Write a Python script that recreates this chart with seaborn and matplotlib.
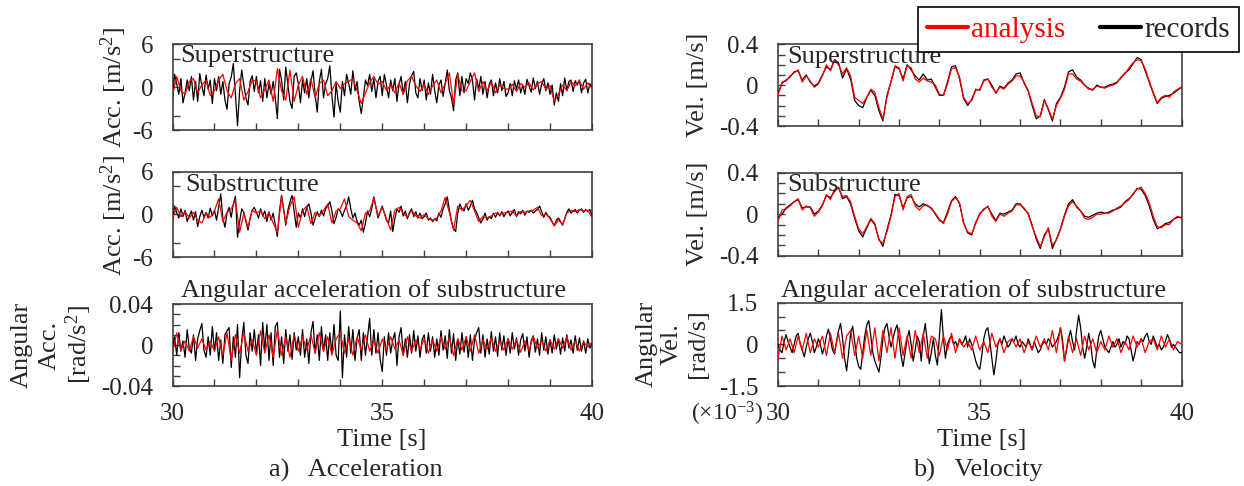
import numpy as np
import pandas as pd
import matplotlib
matplotlib.use("Agg")
import matplotlib.pyplot as plt
from matplotlib.lines import Line2D
import seaborn as sns

# ---------------- DATA ----------------
T_START, T_END = 30.0, 40.0

# Superstructure acceleration [m/s2]; records sampled every 0.05 s, analysis every 0.1 s
acc_sup_rec = [
    -1.5, 1.8, 0.5, -1.0, 1.2, -2.2, -0.8, 1.0, -0.5, 1.5, -1.8, 0.8, -2.0, 1.9, 0.2, -1.2, 1.7, -0.3, 1.0, -2.3,
    1.2, -0.5, 1.5, -1.0, 0.8, -1.8, -3.1, 0.5, 1.4, 3.3, -1.0, -5.4, -0.5, 2.4, 0.3, -1.5, -2.5, 0.8, 1.6, -0.6,
    1.5, -0.8, 0.9, -2.0, 1.2, -1.5, 0.5, -1.0, 0.8, -1.5, -4.4, 2.5, 1.0, -1.8, 2.8, 0.4, -2.0, -3.0, 1.5, 2.0,
    0.5, -2.2, 1.0, -0.8, 1.2, -1.5, 0.8, 2.3, -1.0, -3.5, 0.8, 2.5, -1.5, 0.5, 1.2, 3.0, -1.2, -4.2, 0.5, -2.0,
    -3.5, 0.8, -1.2, 1.8, 0.5, -1.0, 2.3, -0.5, 0.8, -2.0, -3.7, -1.5, 1.0, 0.2, 1.8, -0.6, 1.2, -1.5, 0.8, 1.5,
    -1.2, 1.8, 0.3, -1.5, 1.0, -0.5, 1.2, -2.0, 0.4, 1.5, -1.0, 0.8, -2.2, 0.5, 1.6, 2.2, -0.8, -1.5, 1.2, -0.5,
    1.0, -1.8, 0.6, -1.0, 1.8, -0.5, -2.2, 0.3, 1.0, -1.3, 0.5, 2.4, -0.5, -1.5, -3.3, 1.0, 2.0, -1.2, 1.5, -0.8,
    1.2, 0.5, 2.0, 1.0, -1.8, 1.2, -0.3, 1.5, -1.0, 0.8, -1.5, 0.4, 1.0, -1.2, 0.6, -0.8, 1.2, -0.5, 0.8, -1.3,
    -0.8, 0.5, -1.2, 0.9, -0.3, 1.0, -0.8, 0.3, -1.0, 1.1, 0.2, -0.7, 1.3, -0.2, 0.8, -1.0, 0.4, 1.2, -0.5, 0.6,
    -1.0, 0.3, -2.5, -0.8, -2.0, 0.5, -1.2, 1.3, -0.5, 0.8, 1.0, -0.6, 0.9, 0.3, 1.0, -0.8, 0.6, 1.1, -0.8, 0.5, 0.0,
]
acc_sup_ana = [
    -1.2, 1.5, -0.5, -1.0, 0.8, 1.2, -0.8, 0.3, 1.0, -1.2,
    -0.5, 1.0, 1.8, -0.5, -1.5, 0.5, 1.2, -1.8, -0.6, 1.0,
    0.8, -1.5, -0.3, 1.0, -2.0, 2.6, -0.5, -1.8, 2.4, -2.0,
    0.3, 1.5, -1.0, 1.2, -1.5, 0.5, 1.0, -1.2, -0.5, 0.8,
    -0.2, 0.5, 0.8, 1.2, -0.5, -2.3, -0.8, 0.6, 1.5, 0.4,
    0.8, -0.5, 0.3, -0.8, 0.6, -1.0, 0.9, 1.5, 0.2, -0.6,
    0.4, -1.0, 0.2, 1.0, -0.8, 0.5, 2.0, -2.4, 1.8, -0.5,
    -0.5, 0.8, 2.0, -0.6, 0.8, -0.5, 0.7, -0.8, 0.3, -0.2,
    -0.3, 0.4, -0.6, 0.5, 0.0, 0.6, -0.4, 0.5, 0.8, -0.3,
    0.2, -2.0, -1.0, 0.3, -0.5, 0.8, 0.2, 0.9, -0.3, 0.6, -0.2,
]

# Substructure acceleration [m/s2]
acc_sub_rec = [
    -0.8, 1.2, 0.3, -0.5, 0.8, -0.3, 0.6, -1.0, -0.2, 0.5, -0.8, 0.4, -1.7, -0.3, 0.6, -0.4, 0.3, -0.5, 0.9, -0.2,
    0.6, -0.8, 1.0, 2.9, -0.5, -1.8, 0.2, 1.0, -0.4, 1.5, 2.6, -3.2, -1.0, 0.8, 0.3, -1.0, -2.2, -0.5, 0.6, 1.0,
    0.3, -0.5, 0.8, -0.2, 0.5, -1.0, 0.4, -0.8, 0.2, -1.5, -3.1, 0.5, 2.7, 0.8, -1.5, 0.6, 1.8, 2.7, 0.5, -1.8,
    0.2, -0.5, 0.8, -0.3, 1.0, 1.5, 0.2, -1.5, -0.5, 0.4, -0.3, 0.6, -0.2, 0.8, 1.2, 1.8, 0.5, -1.3, -0.4, 0.8,
    0.5, -0.3, 0.6, 1.2, 2.5, 0.8, -0.5, 0.2, -1.0, -1.5, -0.8, -2.5, -1.2, 0.5, -0.3, 0.8, 2.5, 1.0, -0.5, 0.4,
    1.2, 0.2, -0.8, -1.2, 0.5, -2.4, -0.6, 0.8, 0.3, 1.2, -0.2, 0.5, -0.6, 0.3, 0.8, -0.3, 0.4, -0.5, 0.2, -0.6,
    -0.3, 0.2, -0.8, -0.5, -1.0, -0.6, -0.9, 0.2, -0.4, 0.8, 1.5, 2.5, 0.6, -1.0, -2.0, -2.4, 0.2, 1.5, 0.8, 0.5,
    1.5, 0.6, 1.2, 2.0, 0.8, 0.3, -0.5, -1.2, -0.6, 0.2, -0.8, -0.3, -0.6, 0.2, -0.4, 0.3, -0.2, 0.4, -0.3, 0.2,
    0.5, -0.2, 0.3, 0.7, -0.3, 0.4, 0.1, 0.6, -0.1, 0.5, 0.3, 0.6, 0.2, 0.5, 0.7, 1.2, 0.4, -0.4, 0.3, -0.2,
    -0.4, -1.0, -1.6, -0.8, -0.5, -1.0, -1.5, -0.6, 0.3, 0.8, 0.2, 0.5, 0.7, 0.2, 0.6, 0.8, 0.3, 0.7, 0.4, 0.7, -0.3,
]
acc_sub_ana = [
    -0.6, 1.0, -0.3, 0.4, -0.5, 0.3, -0.8, -1.2, 0.2, -0.4,
    0.5, 2.2, -1.0, 0.3, 0.8, 2.0, -2.5, 0.2, -1.8, 0.6,
    0.2, 0.5, -0.6, 0.3, -1.2, -2.5, 2.5, -1.2, 1.2, 2.5,
    -1.8, 0.5, 1.2, -1.3, 0.3, -0.2, 0.6, 1.5, -1.2, 0.5,
    0.8, 2.2, -0.3, -0.8, -1.2, -2.3, 0.2, 0.5, 2.3, -0.2,
    1.0, -0.6, -2.2, 0.6, 1.0, 0.2, -0.4, 0.6, -0.2, -0.5,
    0.0, -0.6, -0.8, -0.5, 0.5, 2.4, 0.3, -2.2, 1.2, 0.6,
    1.3, 2.0, 0.5, -1.0, -0.3, -0.5, -0.2, 0.2, 0.0, 0.2,
    0.3, 0.5, -0.2, 0.4, 0.3, 0.5, 0.6, 1.0, -0.2, 0.1,
    -0.6, -1.6, -0.8, -1.4, 0.2, 0.6, 0.4, 0.7, 0.5, 0.6, -0.4,
]

# Angular acceleration of substructure [x0.001 rad/s2]
angacc_rec = [
    -5, 8, -10, 12, -6, 4, -12, 15, -3, -8, 10, -15, 6, 14, 21, -5, -12, 8, -10, 18,
    -6, 12, -15, 5, -18, 10, 14, 17, -22, 8, -12, 20, -32, 4, 22, -10, -18, 12, -6, 15,
    -8, 10, -20, 22, -5, 20, -15, 12, -20, 18, 22, -12, 8, -18, 15, -6, 10, -14, 12, -5,
    8, -10, 15, -12, 6, -18, 12, 23, -8, 10, -15, 18, -6, 10, -15, 12, -8, 20, -10, -15,
    33, -32, 10, -12, 18, -8, 15, -15, 6, 15, -15, 12, -10, 8, 26, -10, 15, -8, 12, -14,
    -26, 8, -10, 12, -8, 5, 12, -20, 8, 17, -10, 6, -12, 10, -8, 14, -6, 9, -12, 5,
    10, -8, 12, -6, 8, -12, 6, -10, 14, -5, 9, -13, 15, -8, 11, -15, 6, -9, 12, -7,
    8, -12, 10, -15, 5, 12, 17, -8, 10, -12, 6, -9, 13, -6, 8, -11, 12, -5, 9, -10,
    6, -8, 12, -4, 7, -10, 5, 11, -6, 8, -12, 4, 9, -7, 6, -10, 12, -5, 8, -9,
    5, -8, 10, -4, 6, -9, 7, -6, 10, -3, 5, -8, 9, -5, 7, -6, 4, -8, 6, -3, 2,
]
angacc_ana = [
    -8, 12, -5, 4, -6, 8, -3, 6, -5, 4,
    -6, 8, -10, 12, -15, 10, -8, 12, -6, 5,
    -10, 14, -8, 10, -12, 15, -10, 8, -12, 10,
    -6, 8, -5, 10, -8, 12, -6, 8, -10, 6,
    12, -8, 6, -10, 8, -5, 10, -6, 4, -8,
    6, -5, 8, -4, 5, -10, 8, -6, 5, -4,
    6, -8, 5, -6, 8, -4, 7, -10, 6, -5,
    8, -6, 10, -8, 5, -4, 7, -6, 4, -5,
    6, -4, 5, -7, 4, -5, 8, -3, 4, -6,
    5, -4, 6, -3, 8, -5, 4, -6, 3, -2, 3,
]

# Superstructure velocity [m/s], every 0.1 s
vel_sup_rec = [
    -0.08, 0.02, 0.05, 0.08, 0.13, 0.14, 0.05, 0.10, 0.03, -0.01,
    0.02, 0.10, 0.18, 0.15, 0.25, 0.22, 0.07, 0.16, 0.06, -0.15,
    -0.20, -0.22, -0.12, -0.05, -0.10, -0.25, -0.35, -0.10, 0.03, 0.18,
    0.16, 0.06, 0.20, 0.15, 0.09, 0.05, 0.11, 0.05, 0.06, -0.02,
    -0.10, -0.10, 0.03, 0.18, 0.19, 0.06, -0.13, -0.20, -0.14, -0.04,
    -0.05, 0.05, 0.06, 0.00, -0.08, -0.01, -0.03, 0.02, 0.05, 0.11,
    0.12, 0.02, -0.06, -0.20, -0.33, -0.30, -0.14, -0.24, -0.35, -0.18,
    -0.12, -0.02, 0.13, 0.15, 0.08, 0.05, 0.00, -0.03, -0.05, 0.00,
    -0.02, -0.02, 0.00, 0.01, 0.03, 0.07, 0.12, 0.15, 0.21, 0.27,
    0.25, 0.14, 0.03, -0.08, -0.18, -0.13, -0.11, -0.10, -0.08, -0.05, -0.02,
]
vel_sup_ana = [
    -0.10, 0.03, 0.04, 0.09, 0.12, 0.15, 0.03, 0.09, 0.04, -0.02,
    0.01, 0.09, 0.20, 0.14, 0.24, 0.20, 0.11, 0.17, 0.09, -0.12,
    -0.15, -0.18, -0.12, -0.04, -0.07, -0.22, -0.33, -0.12, 0.04, 0.19,
    0.17, 0.04, 0.19, 0.17, 0.06, 0.03, 0.07, 0.04, 0.03, 0.00,
    -0.09, -0.10, 0.01, 0.16, 0.17, 0.08, -0.12, -0.18, -0.15, -0.05,
    -0.04, 0.04, 0.06, -0.02, -0.07, -0.02, -0.04, 0.01, 0.04, 0.09,
    0.09, 0.03, -0.05, -0.18, -0.30, -0.31, -0.15, -0.23, -0.33, -0.20,
    -0.13, -0.04, 0.11, 0.11, 0.06, 0.04, 0.00, -0.04, -0.04, -0.01,
    -0.02, -0.03, -0.01, 0.00, 0.02, 0.08, 0.11, 0.17, 0.22, 0.25,
    0.24, 0.16, 0.04, -0.07, -0.17, -0.12, -0.10, -0.12, -0.07, -0.04, -0.02,
]

# Substructure velocity [m/s], every 0.1 s
vel_sub_rec = [
    -0.03, 0.00, 0.06, 0.09, 0.12, 0.14, 0.06, 0.07, 0.07, 0.00,
    0.03, 0.09, 0.18, 0.16, 0.22, 0.26, 0.15, 0.17, 0.10, -0.04,
    -0.16, -0.22, -0.13, -0.05, -0.10, -0.24, -0.31, -0.15, -0.01, 0.19,
    0.18, 0.06, 0.16, 0.17, 0.10, 0.07, 0.10, 0.08, 0.06, 0.00,
    -0.06, -0.08, 0.02, 0.13, 0.17, 0.10, -0.08, -0.18, -0.20, -0.08,
    0.00, 0.05, 0.07, 0.00, -0.06, 0.01, 0.00, 0.02, 0.04, 0.10,
    0.10, 0.05, 0.01, -0.11, -0.24, -0.33, -0.20, -0.14, -0.33, -0.24,
    -0.14, -0.01, 0.10, 0.14, 0.07, 0.03, -0.02, -0.03, -0.01, 0.01,
    0.02, 0.01, 0.02, 0.04, 0.05, 0.07, 0.12, 0.15, 0.19, 0.25,
    0.24, 0.18, 0.08, -0.05, -0.14, -0.12, -0.09, -0.08, -0.05, -0.03, -0.03,
]
vel_sub_ana = [
    -0.07, 0.04, 0.05, 0.08, 0.12, 0.15, 0.04, 0.08, 0.06, -0.02,
    0.02, 0.08, 0.19, 0.14, 0.24, 0.25, 0.17, 0.18, 0.12, -0.02,
    -0.14, -0.19, -0.12, -0.04, -0.09, -0.25, -0.28, -0.17, -0.02, 0.17,
    0.20, 0.04, 0.17, 0.19, 0.08, 0.04, 0.08, 0.09, 0.05, 0.01,
    -0.05, -0.09, 0.00, 0.12, 0.16, 0.11, -0.09, -0.17, -0.19, -0.09,
    0.01, 0.04, 0.08, -0.02, -0.07, 0.00, -0.02, 0.01, 0.03, 0.09,
    0.09, 0.06, 0.00, -0.12, -0.22, -0.31, -0.22, -0.13, -0.30, -0.25,
    -0.15, -0.02, 0.08, 0.12, 0.08, 0.03, -0.04, -0.05, -0.03, 0.00,
    0.00, 0.01, 0.01, 0.03, 0.06, 0.08, 0.11, 0.14, 0.20, 0.24,
    0.26, 0.20, 0.11, -0.02, -0.12, -0.13, -0.10, -0.10, -0.05, -0.02, -0.04,
]

# Angular velocity of substructure [x10^-3 rad/s]
angvel_rec = [
    0.0, -0.2, -0.3, 0.1, 0.35, 0.1, -0.1, -0.3, 0.0, 0.3, 0.4, 0.0, -0.2, -0.45, -0.1, 0.2, 0.4, 0.1, -0.3, -0.1,
    0.2, 0.0, -0.35, -0.1, 0.3, 0.55, 0.2, -0.2, -0.35, 0.1, 0.5, 0.75, 0.2, -0.5, -0.95, -0.3, 0.4, 0.65, 0.1, -0.5,
    -0.8, -0.9, -0.3, 0.3, 0.7, 0.85, 0.3, -0.3, -0.6, -0.8, -1.0, -0.5, 0.2, 0.6, 0.75, 0.3, -0.1, 0.2, 0.5, 0.7,
    0.2, -0.4, -0.8, -0.3, 0.2, 0.5, 0.0, -0.6, -0.2, 0.3, 0.1, -0.6, 0.3, 0.75, 0.1, -0.7, -0.3, 0.2, -0.4, -0.75,
    0.3, 1.25, 0.2, -0.5, 0.0, 0.2, 0.3, 0.0, 0.1, -0.1, 0.2, 0.0, 0.1, 0.3, -0.1, 0.2, 0.0, -0.3, -0.6, -0.8,
    -0.9, -0.4, 0.2, 0.5, 0.6, 0.1, -0.5, -1.1, -0.6, 0.0, 0.2, 0.0, 0.3, 0.1, -0.1, 0.0, 0.2, 0.1, 0.3, 0.0,
    -0.1, 0.1, 0.0, -0.1, 0.2, 0.0, -0.2, 0.1, -0.1, -0.3, -0.2, 0.0, 0.1, 0.0, 0.2, 0.1, -0.1, 0.0, 0.1, 0.3,
    0.6, 0.2, -0.6, -0.2, 0.2, 0.5, 0.1, -0.2, 0.5, 1.05, 0.6, -0.1, -0.5, -0.1, 0.4, 0.0, -0.6, -0.85, -0.2, 0.3,
    0.5, 0.2, -0.1, -0.2, -0.3, -0.1, 0.1, -0.1, 0.0, 0.2, -0.1, 0.1, 0.0, 0.3, 0.2, -0.2, -0.6, -0.3, 0.1, 0.0,
    0.2, 0.1, 0.3, 0.4, 0.1, 0.0, 0.3, 0.1, -0.1, 0.0, -0.2, -0.1, 0.1, 0.35, 0.2, -0.1, 0.0, -0.1, -0.2, -0.3, -0.3,
]
angvel_ana = [
    -0.5, 0.3, -0.2, 0.2, -0.3, 0.3, -0.2, 0.4, -0.3, 0.2,
    -0.1, 0.3, -0.4, 0.4, -0.3, 0.4, -0.5, 0.3, 0.5, -0.4,
    0.3, -0.5, 0.5, -0.4, 0.6, -0.6, 0.5, -0.3, 0.6, -0.5,
    0.6, -0.4, 0.3, -0.5, 0.5, -0.3, 0.4, -0.5, 0.3, 0.2,
    -0.4, 0.3, -0.2, 0.4, -0.3, 0.2, -0.1, 0.1, -0.2, 0.3,
    -0.2, 0.1, -0.3, 0.4, -0.1, 0.2, -0.3, 0.1, 0.2, -0.1,
    0.2, -0.3, 0.1, -0.2, 0.3, -0.1, 0.2, -0.2, 0.5, -0.3,
    0.6, -0.6, 0.3, -0.3, 0.2, -0.4, 0.3, -0.2, 0.2, -0.3,
    0.1, -0.2, 0.3, -0.1, 0.2, -0.3, 0.1, -0.2, 0.3, -0.1,
    0.2, -0.3, 0.1, 0.2, -0.2, 0.3, -0.1, 0.2, -0.2, 0.1, 0.0,
]

SERIES_LABELS = ["analysis", "records"]

# ---------------- STYLE ----------------
sns.set_style("white")
plt.rcParams["font.family"] = ["Liberation Serif", "DejaVu Serif"]
plt.rcParams["mathtext.fontset"] = "custom"
plt.rcParams["mathtext.rm"] = "Liberation Serif"
plt.rcParams["mathtext.default"] = "regular"

W, H = 1244, 486
fig = plt.figure(figsize=(W / 100, H / 100), dpi=100)
fig.patch.set_facecolor("white")

RED = "#ff0000"
BLACK = "#000000"
SPINE = "#404040"
FS = 19


def rect(l, t, r, b):
    return [l / W, 1 - b / H, (r - l) / W, (b - t) / H]


def series_df(vals):
    t = np.linspace(T_START, T_END, len(vals))
    return pd.DataFrame({"t": t, "v": vals})


def draw(ax, rec, ana, ylim, yticks, ylabels, bottom):
    sns.lineplot(data=series_df(rec), x="t", y="v", ax=ax, color=BLACK, lw=0.9, zorder=3)
    sns.lineplot(data=series_df(ana), x="t", y="v", ax=ax, color=RED, lw=0.9, zorder=4)
    ax.set_xlim(T_START, T_END)
    ax.set_ylim(*ylim)
    ax.set_yticks(yticks)
    ax.set_yticklabels(ylabels)
    xt = list(range(30, 41))
    ax.set_xticks(xt)
    if bottom:
        ax.set_xticklabels([str(v) if v in (30, 35, 40) else "" for v in xt])
    else:
        ax.set_xticklabels([""] * len(xt))
    ax.set_xlabel("")
    ax.set_ylabel("")
    for s in ax.spines.values():
        s.set_visible(True)
        s.set_color(SPINE)
        s.set_linewidth(1.2)
    ax.tick_params(axis="both", direction="in", length=5, width=1.0, color=SPINE,
                   labelsize=18, left=True, bottom=True, top=False, right=False)
    ax.tick_params(axis="y", pad=14)
    ax.tick_params(axis="x", pad=12)


LX = (172.5, 592)
RX = (778, 1181.5)
LROWS = [(44.3, 130), (172, 257), (304, 386)]
RROWS = [(44.3, 126), (172.7, 255.7), (302.7, 386)]

acc_ticks = [-6, -4, 0, 4, 6]
acc_labels = ["-6", "", "0", "", "6"]
vel_ticks = [-0.4, -0.3, -0.2, -0.1, 0, 0.1, 0.2, 0.3, 0.4]
vel_labels = ["-0.4", "", "", "", "0", "", "", "", "0.4"]
aacc_ticks = [-40, -30, -20, -10, 0, 10, 20, 30, 40]
aacc_labels = ["-0.04", "", "", "", "0", "", "", "", "0.04"]
avel_ticks = [-1.5, -1.0, -0.5, 0, 0.5, 1.0, 1.5]
avel_labels = ["-1.5", "", "", "0", "", "", "1.5"]

ax = fig.add_axes(rect(LX[0], LROWS[0][0], LX[1], LROWS[0][1]))
draw(ax, acc_sup_rec, acc_sup_ana, (-6, 6), acc_ticks, acc_labels, False)
ax = fig.add_axes(rect(LX[0], LROWS[1][0], LX[1], LROWS[1][1]))
draw(ax, acc_sub_rec, acc_sub_ana, (-6, 6), acc_ticks, acc_labels, False)
ax = fig.add_axes(rect(LX[0], LROWS[2][0], LX[1], LROWS[2][1]))
draw(ax, angacc_rec, angacc_ana, (-40, 40), aacc_ticks, aacc_labels, True)
ax = fig.add_axes(rect(RX[0], RROWS[0][0], RX[1], RROWS[0][1]))
draw(ax, vel_sup_rec, vel_sup_ana, (-0.4, 0.4), vel_ticks, vel_labels, False)
ax = fig.add_axes(rect(RX[0], RROWS[1][0], RX[1], RROWS[1][1]))
draw(ax, vel_sub_rec, vel_sub_ana, (-0.4, 0.4), vel_ticks, vel_labels, False)
ax = fig.add_axes(rect(RX[0], RROWS[2][0], RX[1], RROWS[2][1]))
draw(ax, angvel_rec, angvel_ana, (-1.5, 1.5), avel_ticks, avel_labels, True)


def ftext(x, y, s, **kw):
    fig.text(x / W, 1 - y / H, s, **kw)


# panel titles
ftext(180, 56, "Superstructure", fontsize=FS, va="center", ha="left")
ftext(185, 185, "Substructure", fontsize=FS, va="center", ha="left")
ftext(181, 291, "Angular acceleration of substructure", fontsize=FS, va="center", ha="left")
ftext(787, 57, "Superstructure", fontsize=FS, va="center", ha="left")
ftext(787, 185, "Substructure", fontsize=FS, va="center", ha="left")
ftext(781, 291, "Angular acceleration of substructure", fontsize=FS, va="center", ha="left")

# y labels
ftext(114, 87, "Acc. [m/s$^{2}$]", fontsize=FS, rotation=90, ha="center", va="center")
ftext(114, 215, "Acc. [m/s$^{2}$]", fontsize=FS, rotation=90, ha="center", va="center")
ftext(22, 345, "Angular", fontsize=FS, rotation=90, ha="center", va="center")
ftext(50, 345, "Acc.", fontsize=FS, rotation=90, ha="center", va="center")
ftext(79, 345, "[rad/s$^{2}$]", fontsize=FS, rotation=90, ha="center", va="center")
ftext(698, 85, "Vel. [m/s]", fontsize=FS, rotation=90, ha="center", va="center")
ftext(698, 214, "Vel. [m/s]", fontsize=FS, rotation=90, ha="center", va="center")
ftext(647, 344, "Angular", fontsize=FS, rotation=90, ha="center", va="center")
ftext(672, 344, "Vel.", fontsize=FS, rotation=90, ha="center", va="center")
ftext(698, 344, "[rad/s]", fontsize=FS, rotation=90, ha="center", va="center")

# x labels and captions
ftext(382, 440, "Time [s]", fontsize=FS, ha="center", va="center")
ftext(982, 440, "Time [s]", fontsize=FS, ha="center", va="center")
ftext(763, 414, "(×10$^{-3}$)", fontsize=17, ha="right", va="center")
ftext(356, 470, "a)   Acceleration", fontsize=FS, ha="center", va="center")
ftext(978, 470, "b)   Velocity", fontsize=FS, ha="center", va="center")

# legend
handles = [Line2D([0], [0], color=RED, lw=3), Line2D([0], [0], color=BLACK, lw=3)]
leg = fig.legend(handles, SERIES_LABELS, loc="upper right",
                 bbox_to_anchor=(1239 / W, 1 - 7 / H), ncol=2, frameon=True,
                 fancybox=False, framealpha=1, edgecolor="black", fontsize=21,
                 handlelength=1.4, handletextpad=0.1, columnspacing=1.2,
                 borderpad=0.32, borderaxespad=0)
leg.get_frame().set_linewidth(1.2)
leg.get_texts()[0].set_color(RED)
leg.set_zorder(10)

fig.savefig("out.png", dpi=100, facecolor="white")
